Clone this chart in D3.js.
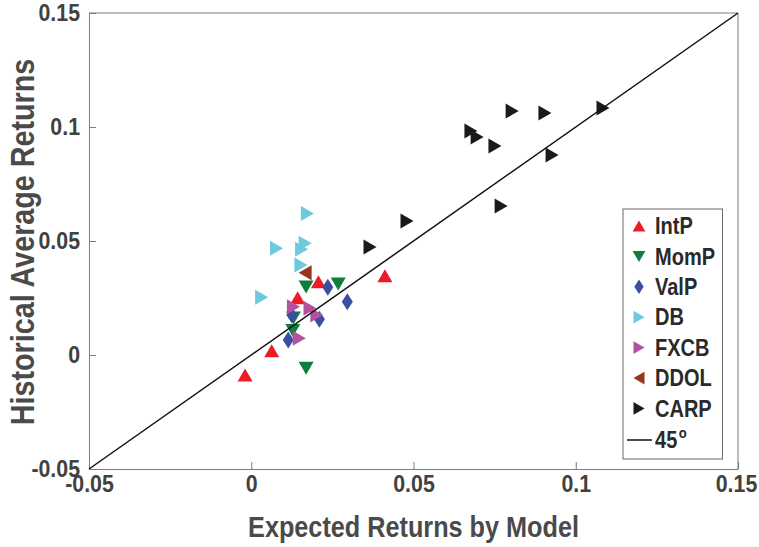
<!DOCTYPE html>
<html><head><meta charset="utf-8">
<script src="https://cdn.jsdelivr.net/npm/d3@7/dist/d3.min.js"></script>
<style>
html,body{margin:0;padding:0;background:#fff;}
text{font-family:"Liberation Sans",Arial,sans-serif;font-weight:bold;}
</style></head>
<body><svg id="chart" width="759" height="547"></svg>
<script>
// ---- data ----
const seriesNames = ["IntP","MomP","ValP","DB","FXCB","DDOL","CARP"];
const intP = [[0.0207,0.0321],[0.0412,0.0348],[0.0143,0.0251],[0.0063,0.0019],[-0.0019,-0.0088]];
const momP = [[0.0169,0.0298],[0.0268,0.0311],[0.0130,0.0162],[0.0128,0.0107],[0.0169,-0.0058]];
const valP = [[0.0236,0.0297],[0.0296,0.0234],[0.0125,0.0175],[0.0210,0.0157],[0.0114,0.0066]];
const db   = [[0.0173,0.0621],[0.0078,0.0468],[0.0166,0.0490],[0.0155,0.0464],[0.0153,0.0395],[0.0032,0.0253]];
const fxcb = [[0.0130,0.0212],[0.0181,0.0205],[0.0202,0.0175],[0.0148,0.0073]];
const ddol = [[0.0166,0.0361]];
const carp = [[0.1084,0.1083],[0.0905,0.1061],[0.0804,0.1070],[0.0677,0.0982],[0.0696,0.0956],
              [0.0751,0.0917],[0.0927,0.0877],[0.0770,0.0654],[0.0480,0.0588],[0.0366,0.0474]];
const xTicks = [-0.05,0,0.05,0.1,0.15];
const yTicks = [-0.05,0,0.05,0.1,0.15];
const xDomain = [-0.05,0.15];
const yDomain = [-0.05,0.15];
const lineLabel = "45";

// ---- styles ----
const colors = {IntP:"#ec1c24",MomP:"#0f7d3e",ValP:"#3a4fa0",DB:"#6ccadc",FXCB:"#b5519f",DDOL:"#98351f",CARP:"#1a1a1a"};
const shapes = {IntP:"up",MomP:"down",ValP:"diamond",DB:"right",FXCB:"right",DDOL:"left",CARP:"right"};
const dataBy = {IntP:intP,MomP:momP,ValP:valP,DB:db,FXCB:fxcb,DDOL:ddol,CARP:carp};
const SQUEEZE = 0.87;

function markerPath(shape, s){
  const b = 15*s, h = 13*s;
  switch(shape){
    case "up": return `M0,${-h/2}L${b/2},${h/2}L${-b/2},${h/2}Z`;
    case "down": return `M0,${h/2}L${b/2},${-h/2}L${-b/2},${-h/2}Z`;
    case "right": return `M${h/2},0L${-h/2},${-b/2}L${-h/2},${b/2}Z`;
    case "left": return `M${-h/2},0L${h/2},${-b/2}L${h/2},${b/2}Z`;
    case "diamond": { const w=11*s, t=17*s; return `M0,${-t/2}L${w/2},0L0,${t/2}L${-w/2},0Z`; }
  }
}

const svg = d3.select("#chart");
const L=89, R=738, T=13, B=469;
const x = d3.scaleLinear().domain(xDomain).range([L,R]);
const y = d3.scaleLinear().domain(yDomain).range([B,T]);
const fmt = d => d===0 ? "0" : String(d);
const textCol = "#414141", axisCol = "#7d7d7d";

// axes
const gx = svg.append("g").attr("transform",`translate(0,${B})`)
  .call(d3.axisBottom(x).tickValues(xTicks).tickFormat(fmt).tickSizeInner(-7).tickSizeOuter(0).tickPadding(5));
const gy = svg.append("g").attr("transform",`translate(${L},0)`)
  .call(d3.axisLeft(y).tickValues(yTicks).tickFormat(fmt).tickSizeInner(-7).tickSizeOuter(0).tickPadding(9));
[gx,gy].forEach(g=>{
  g.select(".domain").attr("stroke",axisCol);
  g.selectAll(".tick line").attr("stroke",axisCol);
  g.selectAll(".tick text").attr("fill",textCol).style("font-size","24.5px")
    .style("font-family",'"Liberation Sans",Arial,sans-serif');
});
gx.selectAll(".tick text").attr("dy","0.72em");
// keep the last x label inside the frame
gx.selectAll(".tick").filter(d=>d===xTicks[xTicks.length-1]).select("text").attr("dx","-2");
// top and right box lines
svg.append("line").attr("x1",L).attr("x2",R).attr("y1",T).attr("y2",T).attr("stroke",axisCol);
svg.append("line").attr("x1",R).attr("x2",R).attr("y1",T).attr("y2",B).attr("stroke",axisCol);

// axis titles
svg.append("text").attr("x",(L+R)/2).attr("y",537).attr("text-anchor","middle")
  .attr("fill","#4a4a4a").style("font-size","29px").text("Expected Returns by Model");
svg.append("text").attr("transform",`translate(34,242) rotate(-90)`).attr("text-anchor","middle")
  .attr("fill","#4a4a4a").style("font-size","33px").text("Historical Average Returns");

// markers
seriesNames.forEach(name=>{
  svg.append("g").selectAll("path").data(dataBy[name]).join("path")
    .attr("d",markerPath(shapes[name],1))
    .attr("transform",d=>`translate(${x(d[0])},${y(d[1])})`)
    .attr("fill",colors[name]);
});

// 45 degree line
svg.append("line").attr("x1",x(xDomain[0])).attr("y1",y(yDomain[0]))
  .attr("x2",x(xDomain[1])).attr("y2",y(yDomain[1])).attr("stroke","#111").attr("stroke-width",1.5);

// legend
const lg = svg.append("g");
const lgL=623, lgR=722.5, lgT=209, lgB=459;
lg.append("rect").attr("x",lgL).attr("y",lgT).attr("width",lgR-lgL).attr("height",lgB-lgT)
  .attr("fill","#fff").attr("stroke","#6a6a6a");
const rowY = i => 226 + i*30.4;
seriesNames.forEach((name,i)=>{
  lg.append("path").attr("d",markerPath(shapes[name],0.85))
    .attr("transform",`translate(639,${rowY(i)})`).attr("fill",colors[name]);
  lg.append("text").attr("x",655).attr("y",rowY(i)).attr("dy","0.36em")
    .attr("fill","#2a2a2a").style("font-size","23px").text(name);
});
const ly = 440;
lg.append("line").attr("x1",627).attr("x2",652).attr("y1",ly).attr("y2",ly).attr("stroke","#111").attr("stroke-width",1.5);
const t45 = lg.append("text").attr("x",655).attr("y",ly+8).attr("fill","#2a2a2a").style("font-size","23px").text(lineLabel);
t45.each(function(){
  const w = this.getComputedTextLength()*SQUEEZE;
  lg.append("text").attr("x",655+w+1.5).attr("y",ly-2).attr("fill","#2a2a2a").style("font-size","15px").text("o");
});

// condense glyphs horizontally (reference uses a narrow bold face)
svg.selectAll("text").each(function(){
  const w = this.getComputedTextLength();
  d3.select(this).attr("textLength", w*SQUEEZE).attr("lengthAdjust","spacingAndGlyphs");
});
</script></body></html>
